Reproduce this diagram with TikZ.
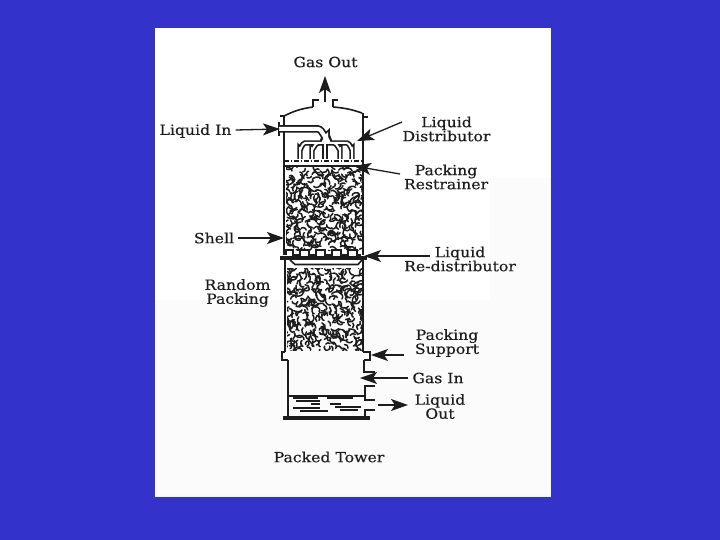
\documentclass[tikz,border=0pt]{standalone}
\usepackage{fontspec}
\setmainfont[FakeStretch=1.12,FakeBold=0.35]{DejaVu Serif}
\usetikzlibrary{arrows.meta}
\definecolor{slide}{RGB}{51,51,204}
\definecolor{ink}{RGB}{28,28,28}
\tikzset{
  lab/.style={font=\fontsize{14}{14}\selectfont, text=ink, align=center, inner sep=0pt},
  wall/.style={draw=ink, line width=1.6pt},
  tube/.style={draw=ink, line width=5.4pt},
  tube core/.style={draw=white, line width=2pt},
  pipe/.style={draw=ink, line width=7.5pt},
  pipe core/.style={draw=white, line width=4pt},
  callout/.style={draw=ink, line width=1.3pt, -{Stealth[length=17pt,width=12pt,inset=4pt]}},
  squig/.style={draw=ink, line width=1.5pt, line cap=round},
  level/.style={draw=ink, line width=1.1pt},
}
% jittered grid of short curved strokes: left, right, top, bottom
\newcommand{\packing}[4]{%
  \foreach \gx in {#1,6.5,...,#2}{}%
  \pgfmathsetmacro{\xnext}{#1+6.5}%
  \pgfmathsetmacro{\ynext}{#3+6.5}%
  \foreach \gx in {#1,\xnext,...,#2}{
    \foreach \gy in {#3,\ynext,...,#4}{
      \foreach \k in {1,2}{
        \pgfmathsetmacro{\xa}{\gx+rnd*6.5}
        \pgfmathsetmacro{\ya}{\gy+rnd*6.5}
        \pgfmathsetmacro{\ang}{rnd*360}
        \pgfmathsetmacro{\bend}{40+rnd*70}
        \pgfmathsetmacro{\len}{4+rnd*5}
        \pgfmathsetmacro{\xb}{\xa+\len*cos(\ang)}
        \pgfmathsetmacro{\yb}{\ya+\len*sin(\ang)}
        \draw[squig] (\xa,\ya) to[bend left=\bend] (\xb,\yb);
      }
    }
  }}
\newcommand{\headerpath}[1]{%
  \draw[#1] (300,159) -- (300,149) to[out=-90,in=180] (305,143) -- (347,143) to[out=0,in=-90] (352,149) -- (352,159);
  \draw[#1] (312,159) -- (312,149) to[out=-90,in=180] (318,143);
  \draw[#1] (325,159) -- (325,143);
  \draw[#1] (340,159) -- (340,149) to[out=-90,in=0] (334,143);
}
\begin{document}
\begin{tikzpicture}[x=1pt,y=-1pt]
\useasboundingbox (0,0) rectangle (720,540);
\fill[slide] (0,0) rectangle (720,540);
\fill[white] (155,28) rectangle (551,497);
\fill[black!1.5] (490,178) rectangle (551,497);
\fill[black!1.5] (155,300) rectangle (490,497);
% packing
\pgfmathsetseed{42}
\begin{scope}
\clip (286,168) rectangle (362,250);
\packing{284}{362}{166}{250}
\end{scope}
\begin{scope}
\clip (287,268) rectangle (362,350);
\packing{284}{362}{266}{350}
\end{scope}
% top nozzle and dome
\draw[wall] (313,107) -- (313,100) -- (319,100);
\draw[wall] (338,100) -- (333,100) -- (333,107);
\draw[wall] (284,116) to[bend left=9] (313,107);
\draw[wall] (333,107) to[bend left=7] (362,113);
\draw[wall] (363,117) -- (368,117);
\draw[wall] (280,116) -- (284,116);
% shell
\draw[wall] (284,116) -- (284,255);
\draw[wall] (363,113) -- (363,255);
\draw[wall] (285,260) -- (285,352);
\draw[wall] (363,260) -- (363,352);
\draw[wall] (288,360) -- (288,416);
\draw[wall] (364,360) -- (364,372) -- (375,372);
\draw[wall] (375,386) -- (365,386) -- (365,400) -- (375,400);
\draw[wall] (375,410) -- (365,410) -- (365,416);
% liquid inlet pipe
\draw[wall] (279,122) -- (279,136);
\draw[pipe] (279,129) -- (318,129) to[out=0,in=-90] (326,137) -- (326,141);
\headerpath{tube}
\fill[ink] (322,135) -- (330,135) -- (334,145) -- (318,145) -- cycle;
\fill[white] (324,137) -- (328,137) -- (331,143) -- (321,143) -- cycle;
\draw[pipe core] (279,129) -- (318,129) to[out=0,in=-90] (326,137) -- (326,141);
\headerpath{tube core}
% restrainer
\draw[draw=ink,line width=1.1pt,dash pattern=on 5pt off 2pt on 1pt off 2pt] (284,161) -- (363,161);
\draw[wall] (284,166) -- (363,166);
% redistributor
\draw[draw=ink,line width=4pt] (280,257.5) -- (367,257.5);
\draw[draw=ink,line width=2pt] (286,255) -- (286,250) -- (293,250) -- (293,255) -- (300,255) -- (300,250) -- (309,250) -- (309,255) -- (316,255) -- (316,250) -- (325,250) -- (325,255) -- (332,255) -- (332,250) -- (341,250) -- (341,255) -- (348,255) -- (348,250) -- (357,250) -- (357,255) -- (361,255);
\draw[wall] (290,260) -- (295,264.5) -- (358,264.5) -- (362,260);
% support flange
\draw[wall] (285,352) -- (282,352) -- (282,360) -- (288,360);
\draw[wall] (363,352) -- (370,352) -- (370,360) -- (364,360);
% liquid at bottom
\draw[wall] (288,396) -- (365,396);
\draw[level] (293,398) -- (318,398);
\draw[level] (296,401) -- (320,401);
\draw[level] (327,398) -- (353,398);
\draw[level] (311,404) -- (320,404);
\draw[level] (330,404) -- (341,404);
\draw[level] (335,407) -- (361,407);
\draw[level] (293,408) -- (320,408);
\draw[level] (300,411) -- (328,411);
\draw[level] (340,410) -- (358,410);
% base plate
\draw[draw=ink,line width=4pt] (283,418) -- (370,418);
% labels
\node[lab] (gasout) at (325.5,62) {Gas Out};
\node[lab] (liquidin) at (195.5,131) {Liquid In};
\node[lab] (distributor) at (446.5,129) {Liquid\\Distributor};
\node[lab] (restrainer) at (446,177) {Packing\\Restrainer};
\node[lab] (shell) at (214,238) {Shell};
\node[lab] (randompacking) at (237.5,293) {Random\\Packing};
\node[lab] (redistributor) at (460,259) {Liquid\\Re-distributor};
\node[lab] (support) at (447,343) {Packing\\Support};
\node[lab] (gasin) at (438,378) {Gas In};
\node[lab] (liquidout) at (440,406.5) {Liquid\\Out};
\node[lab] (title) at (329,457) {Packed Tower};
% connector ends
\coordinate (gasoutend) at (325,76);
\coordinate (gasoutstart) at (325,102);
\coordinate (liquidinend) at (280,129);
\coordinate (diststart) at (402,122);
\coordinate (distend) at (357,141);
\coordinate (reststart) at (400,174);
\coordinate (restend) at (354,166);
\coordinate (shellend) at (284,238);
\coordinate (redistsart) at (430,256);
\coordinate (redistend) at (364,256);
\coordinate (supportstart) at (404,355);
\coordinate (supportend) at (371,355);
\coordinate (gasinend) at (360,378);
\coordinate (liquidoutstart) at (378,405);
\coordinate (liquidoutend) at (408,405);
\draw[callout] (gasoutstart) -- (gasoutend);
\draw[callout] (liquidin.east) ++(4,-1) -- (liquidinend);
\draw[callout] (diststart) -- (distend);
\draw[callout] (reststart) -- (restend);
\draw[callout] (shell.east) ++(4,0) -- (shellend);
\draw[callout] (redistsart) -- (redistend);
\draw[callout] (supportstart) -- (supportend);
\draw[callout] (gasin.west) ++(-4,0) -- (gasinend);
\draw[callout] (liquidoutstart) -- (liquidoutend);
\end{tikzpicture}
\end{document}
